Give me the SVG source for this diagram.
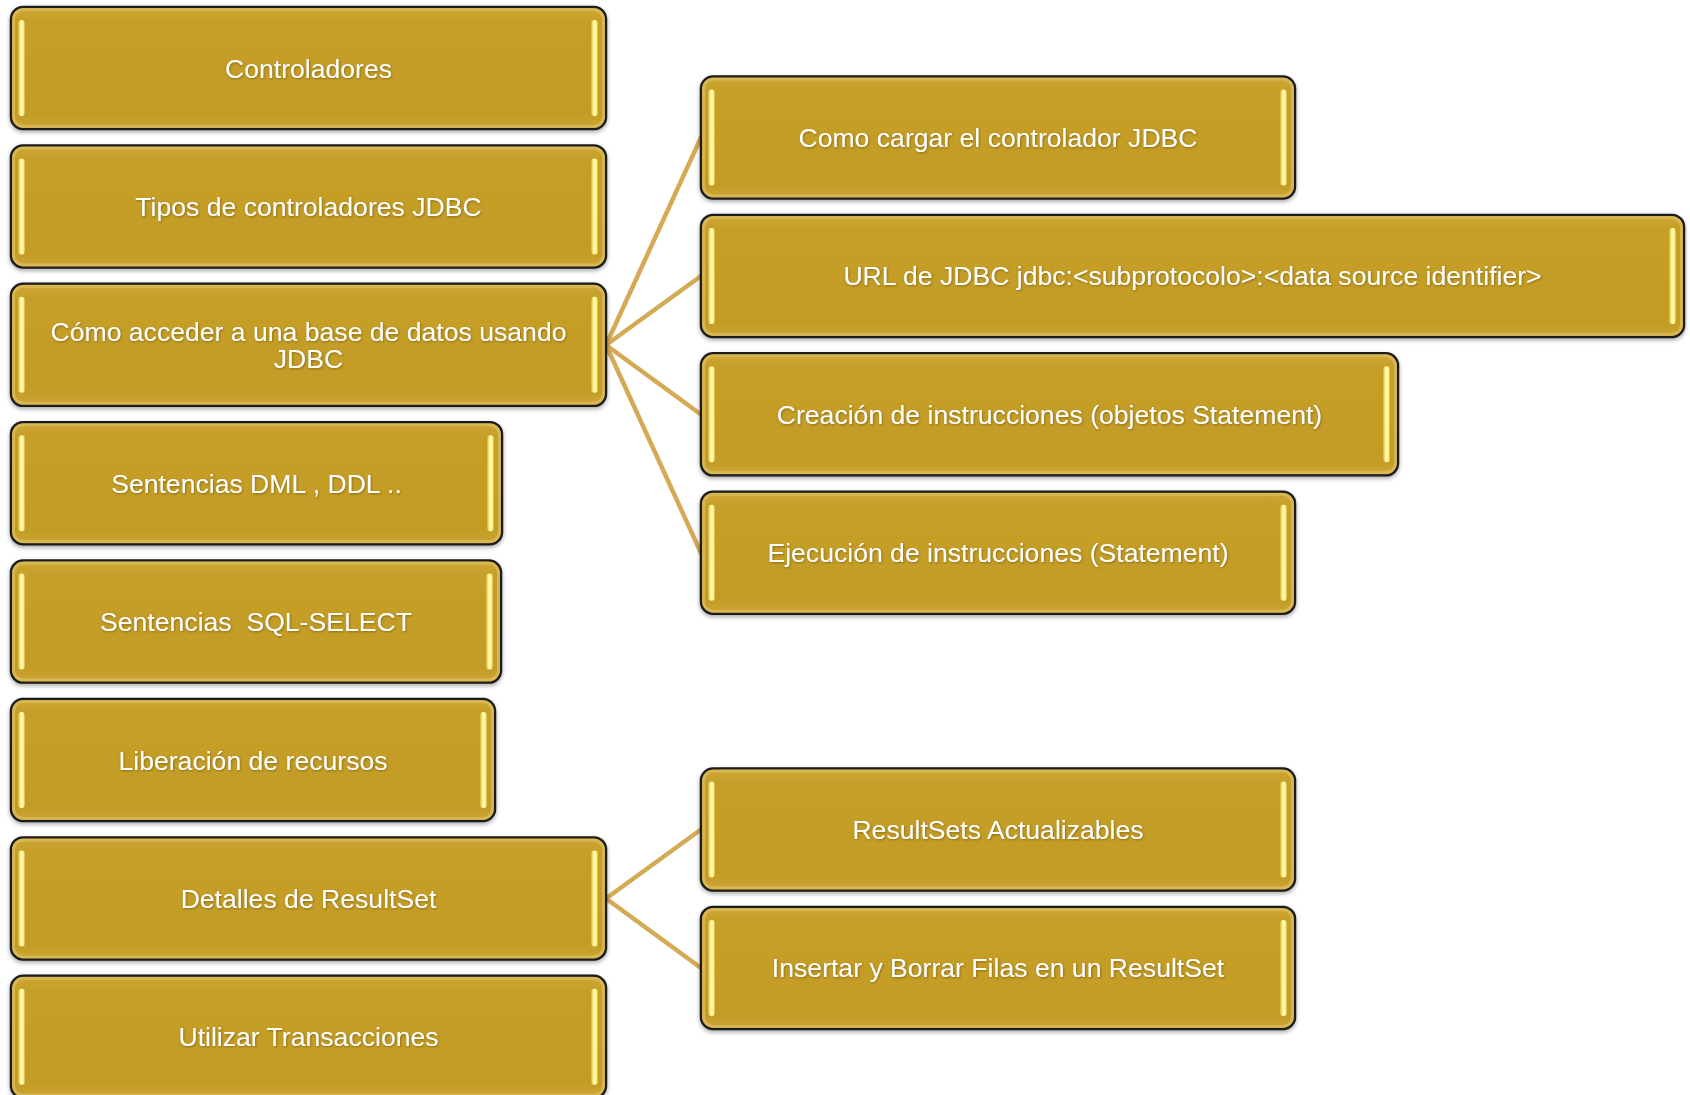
<svg xmlns="http://www.w3.org/2000/svg" width="1690" height="1095" viewBox="0 0 1690 1095">
  <defs>
    <style>
      .box { fill: url(#boxFill); stroke: #1c1c1c; stroke-width: 2.5; filter: url(#boxShadow); }
      .bevel { fill: none; stroke: #DDBE5E; stroke-width: 3; opacity: 0.75; }
      .bar { fill: url(#barFill); filter: url(#soft); }
      .lbl { fill: #ffffff; font-family: "Liberation Sans", Arial, sans-serif; font-size: 26.6px; text-anchor: middle; filter: url(#textShadow); white-space: pre; }
      .link { stroke: #D4AA55; stroke-width: 4.5; fill: none; stroke-linecap: round; }
    </style>
    <linearGradient id="boxFill" x1="0" y1="0" x2="0" y2="1">
      <stop offset="0" stop-color="#CDA734"/>
      <stop offset="0.12" stop-color="#C69F29"/>
      <stop offset="0.88" stop-color="#C39C26"/>
      <stop offset="1" stop-color="#CBA535"/>
    </linearGradient>
    <linearGradient id="barFill" x1="0" y1="0" x2="1" y2="0">
      <stop offset="0" stop-color="#D2AE45"/>
      <stop offset="0.3" stop-color="#FFEE7A"/>
      <stop offset="0.55" stop-color="#FFFBC4"/>
      <stop offset="0.8" stop-color="#FFEC78"/>
      <stop offset="1" stop-color="#D2AE45"/>
    </linearGradient>
    <filter id="boxShadow" x="-5%" y="-10%" width="110%" height="125%">
      <feDropShadow dx="0" dy="2" stdDeviation="2" flood-color="#000" flood-opacity="0.35"/>
    </filter>
    <filter id="soft" x="-50%" y="-10%" width="200%" height="120%">
      <feGaussianBlur stdDeviation="0.6"/>
    </filter>
    <filter id="textShadow" x="-10%" y="-30%" width="120%" height="160%">
      <feDropShadow dx="0.8" dy="1" stdDeviation="0.8" flood-color="#5a4506" flood-opacity="0.55"/>
    </filter>
  </defs>

  <rect width="1690" height="1095" fill="#ffffff"/>

  <!-- connectors: parent topic to its sub-topics -->
  <g id="connectors">
    <line class="link" x1="606" y1="345" x2="701" y2="137.5"/>
    <line class="link" x1="606" y1="345" x2="701" y2="276"/>
    <line class="link" x1="606" y1="345" x2="701" y2="414.5"/>
    <line class="link" x1="606" y1="345" x2="701" y2="553"/>
    <line class="link" x1="606" y1="898.5" x2="701" y2="829.5"/>
    <line class="link" x1="606" y1="898.5" x2="701" y2="968"/>
  </g>

  <!-- left column topics -->
  <g id="n-controladores" transform="translate(11,7)">
    <rect class="box" width="595" height="122" rx="12"/>
    <rect class="bevel" x="2.5" y="2.5" width="590" height="117" rx="10"/>
    <rect class="bar" x="7" y="13" width="7" height="96" rx="3.5"/>
    <rect class="bar" x="580" y="13" width="7" height="96" rx="3.5"/>
    <text class="lbl" x="297.5" y="70.5">Controladores</text>
  </g>

  <g id="n-tipos" transform="translate(11,145.4)">
    <rect class="box" width="595" height="122" rx="12"/>
    <rect class="bevel" x="2.5" y="2.5" width="590" height="117" rx="10"/>
    <rect class="bar" x="7" y="13" width="7" height="96" rx="3.5"/>
    <rect class="bar" x="580" y="13" width="7" height="96" rx="3.5"/>
    <text class="lbl" x="297.5" y="70.5">Tipos de controladores JDBC</text>
  </g>

  <g id="n-acceder" transform="translate(11,283.8)">
    <rect class="box" width="595" height="122" rx="12"/>
    <rect class="bevel" x="2.5" y="2.5" width="590" height="117" rx="10"/>
    <rect class="bar" x="7" y="13" width="7" height="96" rx="3.5"/>
    <rect class="bar" x="580" y="13" width="7" height="96" rx="3.5"/>
    <text class="lbl" x="297.5" y="57">Cómo acceder a una base de datos usando</text>
    <text class="lbl" x="297.5" y="84">JDBC</text>
  </g>

  <g id="n-dml" transform="translate(11,422.2)">
    <rect class="box" width="491" height="122" rx="12"/>
    <rect class="bevel" x="2.5" y="2.5" width="486" height="117" rx="10"/>
    <rect class="bar" x="7" y="13" width="7" height="96" rx="3.5"/>
    <rect class="bar" x="476" y="13" width="7" height="96" rx="3.5"/>
    <text class="lbl" x="245.5" y="70.5">Sentencias DML , DDL ..</text>
  </g>

  <g id="n-select" transform="translate(11,560.6)">
    <rect class="box" width="490" height="122" rx="12"/>
    <rect class="bevel" x="2.5" y="2.5" width="485" height="117" rx="10"/>
    <rect class="bar" x="7" y="13" width="7" height="96" rx="3.5"/>
    <rect class="bar" x="475" y="13" width="7" height="96" rx="3.5"/>
    <text class="lbl" x="245" y="70.5" xml:space="preserve">Sentencias  SQL-SELECT</text>
  </g>

  <g id="n-liberacion" transform="translate(11,699)">
    <rect class="box" width="484" height="122" rx="12"/>
    <rect class="bevel" x="2.5" y="2.5" width="479" height="117" rx="10"/>
    <rect class="bar" x="7" y="13" width="7" height="96" rx="3.5"/>
    <rect class="bar" x="469" y="13" width="7" height="96" rx="3.5"/>
    <text class="lbl" x="242" y="70.5">Liberación de recursos</text>
  </g>

  <g id="n-resultset" transform="translate(11,837.4)">
    <rect class="box" width="595" height="122" rx="12"/>
    <rect class="bevel" x="2.5" y="2.5" width="590" height="117" rx="10"/>
    <rect class="bar" x="7" y="13" width="7" height="96" rx="3.5"/>
    <rect class="bar" x="580" y="13" width="7" height="96" rx="3.5"/>
    <text class="lbl" x="297.5" y="70.5">Detalles de ResultSet</text>
  </g>

  <g id="n-transacciones" transform="translate(11,975.8)">
    <rect class="box" width="595" height="122" rx="12"/>
    <rect class="bevel" x="2.5" y="2.5" width="590" height="117" rx="10"/>
    <rect class="bar" x="7" y="13" width="7" height="96" rx="3.5"/>
    <rect class="bar" x="580" y="13" width="7" height="96" rx="3.5"/>
    <text class="lbl" x="297.5" y="70.5">Utilizar Transacciones</text>
  </g>

  <!-- right column sub-topics -->
  <g id="n-cargar" transform="translate(701,76.5)">
    <rect class="box" width="594" height="122" rx="12"/>
    <rect class="bevel" x="2.5" y="2.5" width="589" height="117" rx="10"/>
    <rect class="bar" x="7" y="13" width="7" height="96" rx="3.5"/>
    <rect class="bar" x="579" y="13" width="7" height="96" rx="3.5"/>
    <text class="lbl" x="297" y="70.5">Como cargar el controlador JDBC</text>
  </g>

  <g id="n-url" transform="translate(701,214.9)">
    <rect class="box" width="983" height="122" rx="12"/>
    <rect class="bevel" x="2.5" y="2.5" width="978" height="117" rx="10"/>
    <rect class="bar" x="7" y="13" width="7" height="96" rx="3.5"/>
    <rect class="bar" x="968" y="13" width="7" height="96" rx="3.5"/>
    <text class="lbl" x="491.5" y="70.5">URL de JDBC jdbc:&lt;subprotocolo&gt;:&lt;data source identifier&gt;</text>
  </g>

  <g id="n-creacion" transform="translate(701,353.3)">
    <rect class="box" width="697" height="122" rx="12"/>
    <rect class="bevel" x="2.5" y="2.5" width="692" height="117" rx="10"/>
    <rect class="bar" x="7" y="13" width="7" height="96" rx="3.5"/>
    <rect class="bar" x="682" y="13" width="7" height="96" rx="3.5"/>
    <text class="lbl" x="348.5" y="70.5">Creación de instrucciones (objetos Statement)</text>
  </g>

  <g id="n-ejecucion" transform="translate(701,491.7)">
    <rect class="box" width="594" height="122" rx="12"/>
    <rect class="bevel" x="2.5" y="2.5" width="589" height="117" rx="10"/>
    <rect class="bar" x="7" y="13" width="7" height="96" rx="3.5"/>
    <rect class="bar" x="579" y="13" width="7" height="96" rx="3.5"/>
    <text class="lbl" x="297" y="70.5">Ejecución de instrucciones (Statement)</text>
  </g>

  <g id="n-actualizables" transform="translate(701,768.5)">
    <rect class="box" width="594" height="122" rx="12"/>
    <rect class="bevel" x="2.5" y="2.5" width="589" height="117" rx="10"/>
    <rect class="bar" x="7" y="13" width="7" height="96" rx="3.5"/>
    <rect class="bar" x="579" y="13" width="7" height="96" rx="3.5"/>
    <text class="lbl" x="297" y="70.5">ResultSets Actualizables</text>
  </g>

  <g id="n-insertar" transform="translate(701,906.9)">
    <rect class="box" width="594" height="122" rx="12"/>
    <rect class="bevel" x="2.5" y="2.5" width="589" height="117" rx="10"/>
    <rect class="bar" x="7" y="13" width="7" height="96" rx="3.5"/>
    <rect class="bar" x="579" y="13" width="7" height="96" rx="3.5"/>
    <text class="lbl" x="297" y="70.5">Insertar y Borrar Filas en un ResultSet</text>
  </g>
</svg>
